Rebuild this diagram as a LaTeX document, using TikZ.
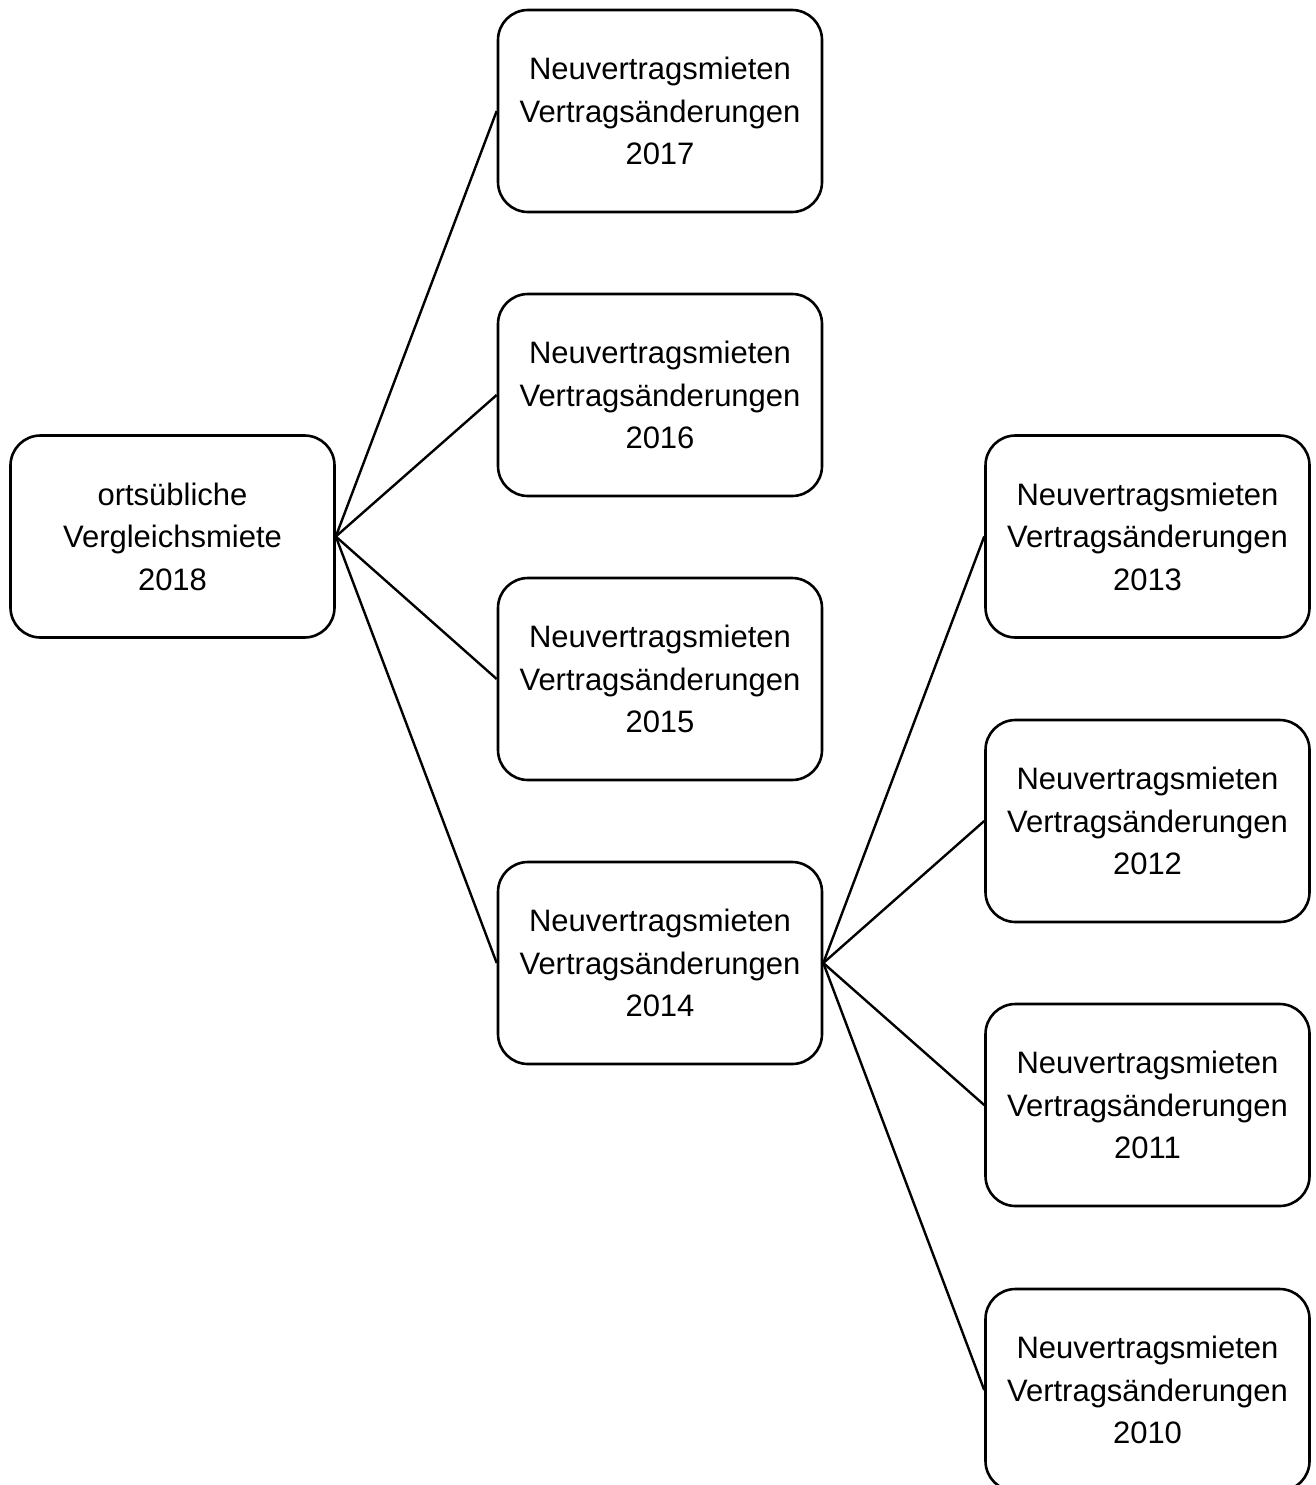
\documentclass[tikz,border=0pt]{standalone}
\usepackage{fontspec}
\setmainfont{Liberation Sans}
\begin{document}
\begin{tikzpicture}[x=1pt,y=-1pt,
  box/.style={draw=black, line width=2.6pt, rounded corners=30pt, minimum width=324pt, minimum height=202pt, align=center, inner sep=0pt, font=\fontsize{31pt}{42.5pt}\selectfont},
  conn/.style={draw=black, line width=2.4pt}]
\useasboundingbox (0,0) rectangle (1316,1485);
\clip (0,0) rectangle (1316,1485);
\node[box] (r) at (172.5,536.5) {ortsübliche\\Vergleichsmiete\\2018};
\node[box] (a7) at (660,111) {Neuvertragsmieten\\Vertragsänderungen\\2017};
\node[box] (a6) at (660,395) {Neuvertragsmieten\\Vertragsänderungen\\2016};
\node[box] (a5) at (660,679) {Neuvertragsmieten\\Vertragsänderungen\\2015};
\node[box] (a4) at (660,963) {Neuvertragsmieten\\Vertragsänderungen\\2014};
\node[box] (b3) at (1147.5,536.5) {Neuvertragsmieten\\Vertragsänderungen\\2013};
\node[box] (b2) at (1147.5,821) {Neuvertragsmieten\\Vertragsänderungen\\2012};
\node[box] (b1) at (1147.5,1105) {Neuvertragsmieten\\Vertragsänderungen\\2011};
\node[box] (b0) at (1147.5,1390) {Neuvertragsmieten\\Vertragsänderungen\\2010};
\foreach \t in {a7,a6,a5,a4} \draw[conn] (r.east) -- (\t.west);
\foreach \t in {b3,b2,b1,b0} \draw[conn] (a4.east) -- (\t.west);
\end{tikzpicture}
\end{document}
